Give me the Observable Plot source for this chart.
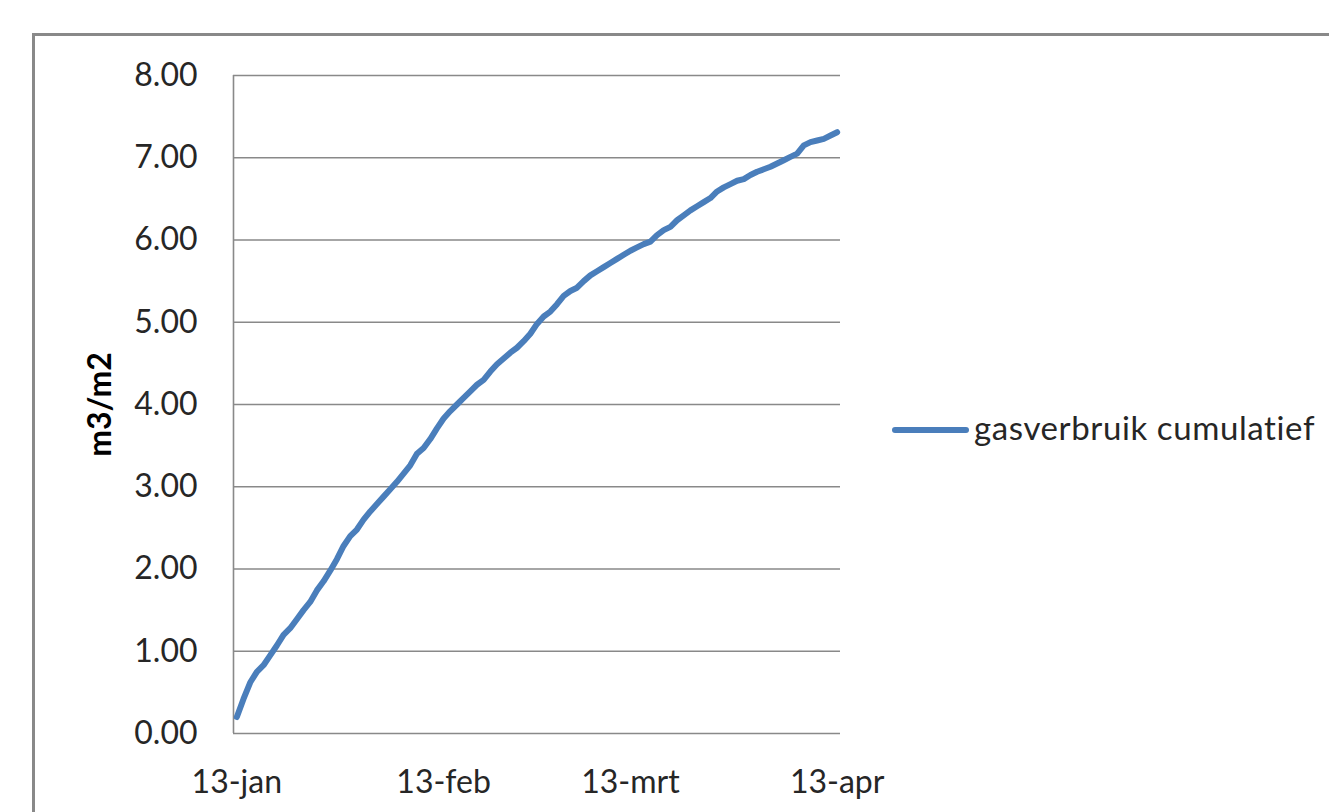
<!DOCTYPE html>
<html><head><meta charset="utf-8">
<script src="https://cdn.jsdelivr.net/npm/d3@7"></script>
<script src="https://cdn.jsdelivr.net/npm/@observablehq/plot@0.6"></script>
<style>
html,body{margin:0;padding:0;background:#fff;overflow:hidden;width:1329px;height:812px}
#frame{position:absolute;left:32px;top:33px;width:1400px;height:900px;border:3px solid #898989;box-sizing:border-box}
#chart{position:absolute;left:0;top:0}
#legend{position:absolute;left:880px;top:400px}
</style></head><body>
<div id="frame"></div>
<div id="chart"></div>
<svg id="legend" width="449" height="60"></svg>
<script>
// ---- data ----
const startDate = "2013-01-13";
const values = [
  0.20,0.42,0.62,0.75,0.83,0.95,1.07,1.20,1.28,1.39,
  1.50,1.60,1.74,1.85,1.98,2.12,2.28,2.40,2.48,2.60,
  2.70,2.79,2.88,2.97,3.06,3.16,3.26,3.40,3.47,3.58,
  3.71,3.83,3.92,4.00,4.08,4.16,4.24,4.30,4.40,4.49,
  4.56,4.63,4.69,4.77,4.86,4.98,5.07,5.13,5.22,5.32,
  5.38,5.42,5.50,5.57,5.62,5.67,5.72,5.77,5.82,5.87,
  5.91,5.95,5.98,6.06,6.12,6.16,6.24,6.30,6.36,6.41,
  6.46,6.51,6.59,6.64,6.68,6.72,6.74,6.79,6.83,6.86,
  6.89,6.93,6.97,7.01,7.05,7.15,7.19,7.21,7.23,7.27,
  7.31
];
const xTickDates = ["2013-01-13","2013-02-13","2013-03-13","2013-04-13"];
const xTickLabels = ["13-jan","13-feb","13-mrt","13-apr"];
const yTicks = [0,1,2,3,4,5,6,7,8];
const seriesName = "gasverbruik cumulatief";
const yTitle = "m3/m2";
const lineColor = "#4A7EBB";
const gridColor = "#898989";

// ---- build ----
const DAY = 864e5;
const t0 = new Date(startDate + "T00:00:00Z");
const data = values.map((v, i) => ({date: new Date(t0.getTime() + i * DAY), value: v}));
const xDomain = [new Date(t0.getTime() - DAY / 2), new Date(data[data.length - 1].date.getTime() + DAY / 2)];
const tickDates = xTickDates.map(d => new Date(d + "T00:00:00Z"));
const labelByTime = new Map(tickDates.map((d, i) => [d.getTime(), xTickLabels[i]]));

const chart = Plot.plot({
  width: 1329, height: 812,
  marginLeft: 233, marginRight: 489, marginTop: 75, marginBottom: 79,
  style: {fontFamily: "Lato, sans-serif", fontSize: "32px", color: "#262626", background: "transparent", overflow: "visible"},
  x: {type: "utc", domain: xDomain},
  y: {domain: [0, 8]},
  marks: [
    Plot.gridY(yTicks, {stroke: gridColor, strokeOpacity: 1, strokeWidth: 1.6}),
    Plot.ruleX([xDomain[0]], {stroke: gridColor, strokeWidth: 1.6}),
    Plot.axisY(yTicks, {tickSize: 0, tickPadding: 36, tickFormat: d => d.toFixed(2), label: null}),
    Plot.axisX(tickDates, {tickSize: 0, tickPadding: 37, tickFormat: d => labelByTime.get(d.getTime()), label: null}),
    Plot.line(data, {x: "date", y: "value", stroke: lineColor, strokeWidth: 6, strokeLinecap: "round", strokeLinejoin: "round", curve: "linear"}),
    Plot.text([yTitle], {text: d => d, frameAnchor: "left", dx: -133, rotate: -90, fontWeight: "bold", fontSize: 32, fill: "#000", textAnchor: "middle", lineAnchor: "middle"})
  ]
});
document.getElementById("chart").appendChild(chart);

// legend
const lg = d3.select("#legend");
lg.append("line").attr("x1", 15).attr("x2", 86).attr("y1", 30).attr("y2", 30)
  .attr("stroke", lineColor).attr("stroke-width", 6).attr("stroke-linecap", "round");
lg.append("text").attr("x", 94).attr("y", 40).attr("font-family", "Lato, sans-serif")
  .attr("font-size", 33).attr("letter-spacing", "0.6px").attr("fill", "#262626").text(seriesName);
</script>
</body></html>
